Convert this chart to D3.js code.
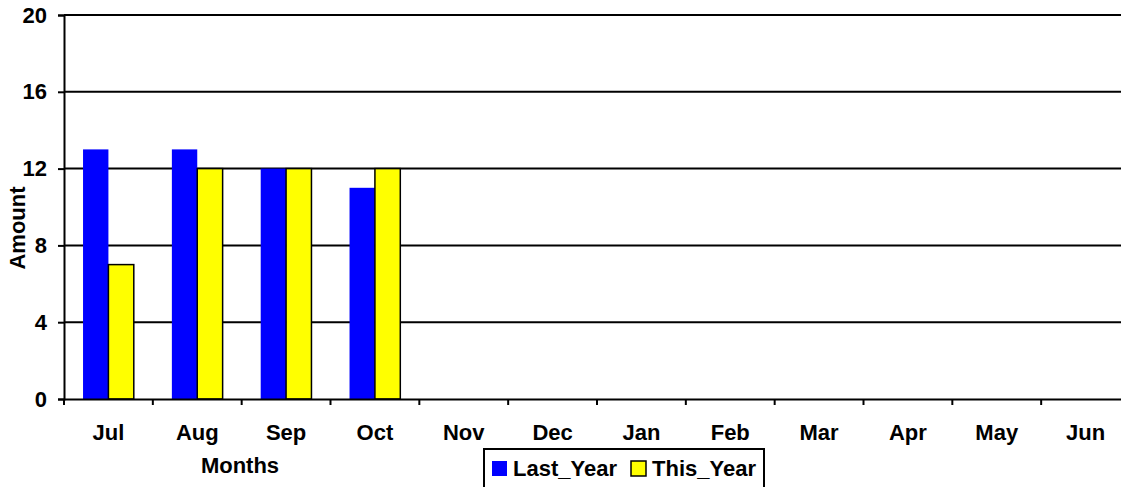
<!DOCTYPE html>
<html>
<head>
<meta charset="utf-8">
<script src="https://cdn.jsdelivr.net/npm/d3@7"></script>
<style>
  body { margin: 0; background: #fff; }
  svg { display: block; }
  text { font-family: "Liberation Sans", Arial, sans-serif; font-weight: bold; fill: #000; }
</style>
</head>
<body>
<svg id="chart"></svg>
<script>
// months on the x axis
var months = ["Jul","Aug","Sep","Oct","Nov","Dec","Jan","Feb","Mar","Apr","May","Jun"];
// series names
var seriesNames = ["Last_Year","This_Year"];
// values (only Jul..Oct have data)
var lastYear = [13, 13, 12, 11];
var thisYear = [7, 12, 12, 12];
// y ticks
var yTicks = [0, 4, 8, 12, 16, 20];

var seriesColor = ["#0000ff", "#ffff00"];

var canvasWidth = 1121;
var canvasHeight = 487;
var fontSize = 22;

var svg = d3.select("#chart").attr("width", canvasWidth).attr("height", canvasHeight);

// plot area, runs past the right edge like the original
var plotLeft = 64, plotRight = 1130, plotTop = 15, plotBottom = 399;

var x0 = d3.scaleBand().domain(months).range([plotLeft, plotRight]).padding(0);
var x1 = d3.scaleBand().domain(seriesNames).range([0, x0.bandwidth()])
  .paddingInner(0).paddingOuter(0.75);
var y = d3.scaleLinear().domain([0, 20]).range([plotBottom, plotTop]);

// gridlines
svg.append("g").selectAll("line")
  .data(yTicks.slice(1))
  .enter().append("line")
  .attr("x1", plotLeft).attr("x2", plotRight)
  .attr("y1", function(d) { return y(d); })
  .attr("y2", function(d) { return y(d); })
  .attr("stroke", "#000").attr("stroke-width", 2);

// bars
var rows = lastYear.map(function(v, i) {
  return {month: months[i], values: [v, thisYear[i]]};
});
var groups = svg.append("g").selectAll("g")
  .data(rows)
  .enter().append("g")
  .attr("transform", function(d) { return "translate(" + x0(d.month) + ",0)"; });

groups.selectAll("rect")
  .data(function(d) {
    return d.values.map(function(v, k) { return {key: seriesNames[k], k: k, value: v}; });
  })
  .enter().append("rect")
  .attr("x", function(d) { return x1(d.key); })
  .attr("y", function(d) { return y(d.value); })
  .attr("width", x1.bandwidth())
  .attr("height", function(d) { return y(0) - y(d.value); })
  .attr("fill", function(d) { return seriesColor[d.k]; })
  .attr("stroke", function(d) { return d.k == 1 ? "#000" : "none"; })
  .attr("stroke-width", 1.5);

// y axis
var yAxis = svg.append("g")
  .attr("transform", "translate(" + plotLeft + ",0)")
  .call(d3.axisLeft(y).tickValues(yTicks).tickSize(6).tickPadding(11));
yAxis.select(".domain").attr("stroke", "#000").attr("stroke-width", 2);
yAxis.selectAll(".tick line").attr("stroke", "#000").attr("stroke-width", 2);
yAxis.selectAll("text").style("font-size", fontSize + "px").attr("font-family", null);

// x axis
var xAxis = svg.append("g")
  .attr("transform", "translate(0," + plotBottom + ")")
  .call(d3.axisBottom(x0).tickSize(0).tickPadding(25));
xAxis.select(".domain").attr("stroke", "#000").attr("stroke-width", 2);
xAxis.selectAll("text").style("font-size", fontSize + "px").attr("font-family", null);
// category boundary ticks
xAxis.append("g").selectAll("line")
  .data(months)
  .enter().append("line")
  .attr("x1", function(d) { return x0(d); })
  .attr("x2", function(d) { return x0(d); })
  .attr("y1", 0).attr("y2", 6)
  .attr("stroke", "#000").attr("stroke-width", 2);

// axis titles
svg.append("text")
  .attr("transform", "translate(25,228) rotate(-90)")
  .attr("text-anchor", "middle")
  .style("font-size", fontSize + "px")
  .text("Amount");

svg.append("text")
  .attr("x", 240).attr("y", 473)
  .attr("text-anchor", "middle")
  .style("font-size", fontSize + "px")
  .text("Months");

// legend
var legend = svg.append("g");
legend.append("rect")
  .attr("x", 484).attr("y", 449).attr("width", 280).attr("height", 45)
  .attr("fill", "#fff").attr("stroke", "#000").attr("stroke-width", 2);
var legendX = [492, 631];
seriesNames.forEach(function(name, i) {
  legend.append("rect")
    .attr("x", legendX[i]).attr("y", 461).attr("width", 15).attr("height", 15)
    .attr("fill", seriesColor[i])
    .attr("stroke", i == 1 ? "#000" : "none").attr("stroke-width", 1.5);
  legend.append("text")
    .attr("x", legendX[i] + 21).attr("y", 476)
    .style("font-size", fontSize + "px")
    .text(name);
});
</script>
</body>
</html>
